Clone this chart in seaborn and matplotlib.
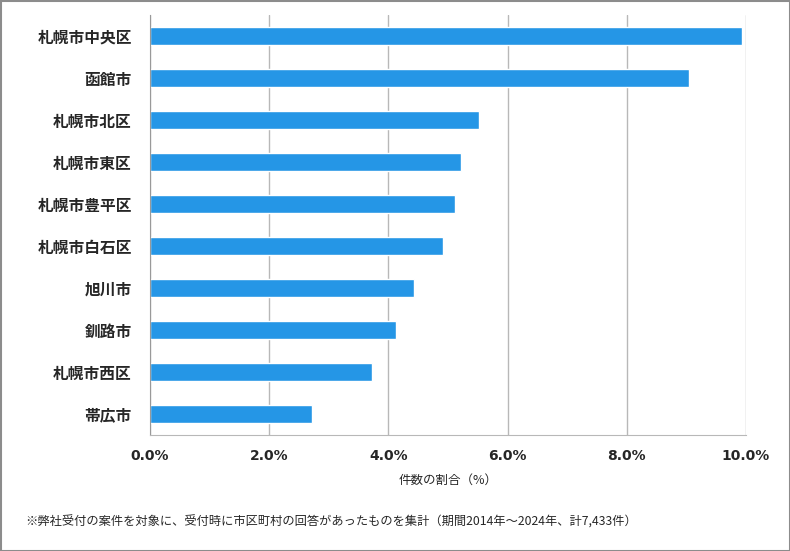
import matplotlib
matplotlib.use("Agg")
import matplotlib.pyplot as plt
import matplotlib.patches as mpatches
from matplotlib.ticker import FuncFormatter
import seaborn as sns
import pandas as pd

categories = ["札幌市中央区", "函館市", "札幌市北区", "札幌市東区", "札幌市豊平区",
              "札幌市白石区", "旭川市", "釧路市", "札幌市西区", "帯広市"]
shares = [9.93, 9.04, 5.52, 5.22, 5.12, 4.92, 4.43, 4.13, 3.72, 2.71]
xticks = [0, 2, 4, 6, 8, 10]
xlabel = "件数の割合（%）"
footnote = "※弊社受付の案件を対象に、受付時に市区町村の回答があったものを集計（期間2014年～2024年、計7,433件）"

sns.set_style("white")
plt.rcParams["font.family"] = ["Noto Sans CJK JP", "DejaVu Sans"]

df = pd.DataFrame({"city": categories, "share": shares})

fig = plt.figure(figsize=(7.9, 5.51), dpi=100)
ax = fig.add_axes([150/790, 1-435/551, (746-150)/790, (435-15)/551])

sns.barplot(data=df, x="share", y="city", orient="h", color="#2596E6",
            width=0.43, saturation=1, ax=ax)

ax.set_xlim(0, 10)
ax.set_ylim(9.5, -0.5)
ax.set_xticks(xticks)
ax.xaxis.set_major_formatter(FuncFormatter(lambda v, p: f"{v:.1f}%"))
ax.grid(axis="x", color="#b8b8b8", linewidth=1)
ax.set_axisbelow(True)
for s in ["top", "right"]:
    ax.spines[s].set_visible(False)
ax.spines["left"].set_color("#999999")
ax.spines["bottom"].set_color("#b8b8b8")
ax.tick_params(axis="both", length=0)
ax.tick_params(axis="y", pad=13)
ax.tick_params(axis="x", pad=10)
for lab in ax.get_yticklabels():
    lab.set_fontsize(11.3)
    lab.set_fontweight("bold")
for lab in ax.get_xticklabels():
    lab.set_fontsize(10)
    lab.set_fontweight("bold")
    lab.set_family(["DejaVu Sans"])
ax.set_ylabel("")
ax.set_xlabel(xlabel, fontsize=9, labelpad=8)

fig.text(25/790, 1-522/551, footnote, fontsize=8.8, va="center", ha="left")

fig.add_artist(mpatches.Rectangle((0.5/790, 0.5/551), 1-1/790, 1-1/551,
                                  transform=fig.transFigure, fill=False,
                                  edgecolor="#8c8c8c", linewidth=1.5))

fig.savefig("out.png", dpi=100)
